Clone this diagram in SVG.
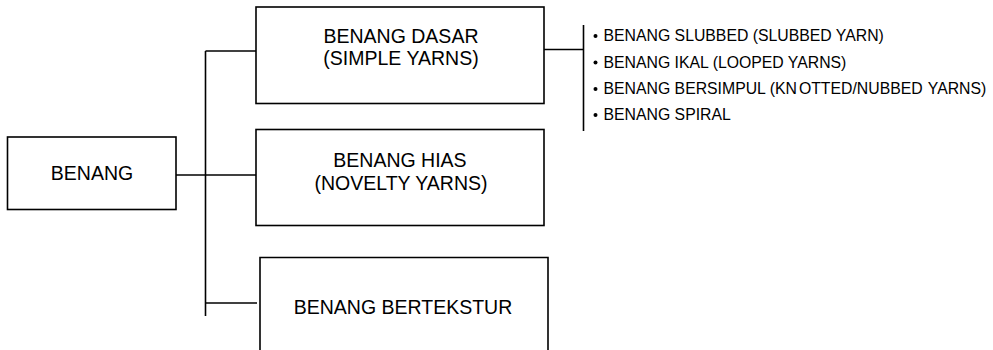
<svg xmlns="http://www.w3.org/2000/svg" width="993" height="350" viewBox="0 0 993 350">
<style>
.box{fill:#fff;stroke:#000;stroke-width:1.6}
.ln{stroke:#000;stroke-width:1.6;fill:none}
.t{font-family:"Liberation Sans",Arial,sans-serif;font-size:19.5px;fill:#000;text-anchor:middle}
.s{font-family:"Liberation Sans",Arial,sans-serif;font-size:15.8px;fill:#000}
.b{fill:#000}
</style>
<rect width="993" height="350" fill="#fff"/>
<g id="connectors">
<line class="ln" x1="176" y1="175" x2="256" y2="175"/>
<line class="ln" x1="205.5" y1="51" x2="205.5" y2="316"/>
<line class="ln" x1="205.5" y1="51" x2="256" y2="51"/>
<line class="ln" x1="205.5" y1="303" x2="257" y2="303"/>
<line class="ln" x1="544" y1="49.5" x2="583.5" y2="49.5"/>
<line class="ln" x1="583.5" y1="25" x2="583.5" y2="131"/>
</g>
<g id="benang">
<rect class="box" x="7.5" y="137" width="168.5" height="72.5"/>
<text class="t" x="92" y="179.5">BENANG</text>
</g>
<g id="benang-dasar">
<rect class="box" x="256" y="7" width="288" height="96.5"/>
<text class="t" x="401" y="43">BENANG DASAR</text>
<text class="t" x="401" y="65">(SIMPLE YARNS)</text>
</g>
<g id="benang-hias">
<rect class="box" x="256" y="129.5" width="288" height="96"/>
<text class="t" x="400" y="166.5">BENANG HIAS</text>
<text class="t" x="401" y="189.5">(NOVELTY YARNS)</text>
</g>
<g id="benang-bertekstur">
<path class="ln" d="M260,352 V257.5 H548 V352"/>
<text class="t" x="403" y="314">BENANG BERTEKSTUR</text>
</g>
<g id="jenis-benang-hias">
<circle class="b" cx="595.5" cy="36" r="2"/>
<text class="s" x="603.5" y="41">BENANG SLUBBED (SLUBBED YARN)</text>
<circle class="b" cx="595.5" cy="62.5" r="2"/>
<text class="s" x="603.5" y="67.5">BENANG IKAL (LOOPED YARNS)</text>
<circle class="b" cx="595.5" cy="89" r="2"/>
<text class="s" x="603.5" y="94">BENANG BERSIMPUL (KN<tspan dx="2">OTTED/NUBBED</tspan><tspan dx="1"> YARNS)</tspan></text>
<circle class="b" cx="595.5" cy="115" r="2"/>
<text class="s" x="603.5" y="120">BENANG SPIRAL</text>
</g>
</svg>
